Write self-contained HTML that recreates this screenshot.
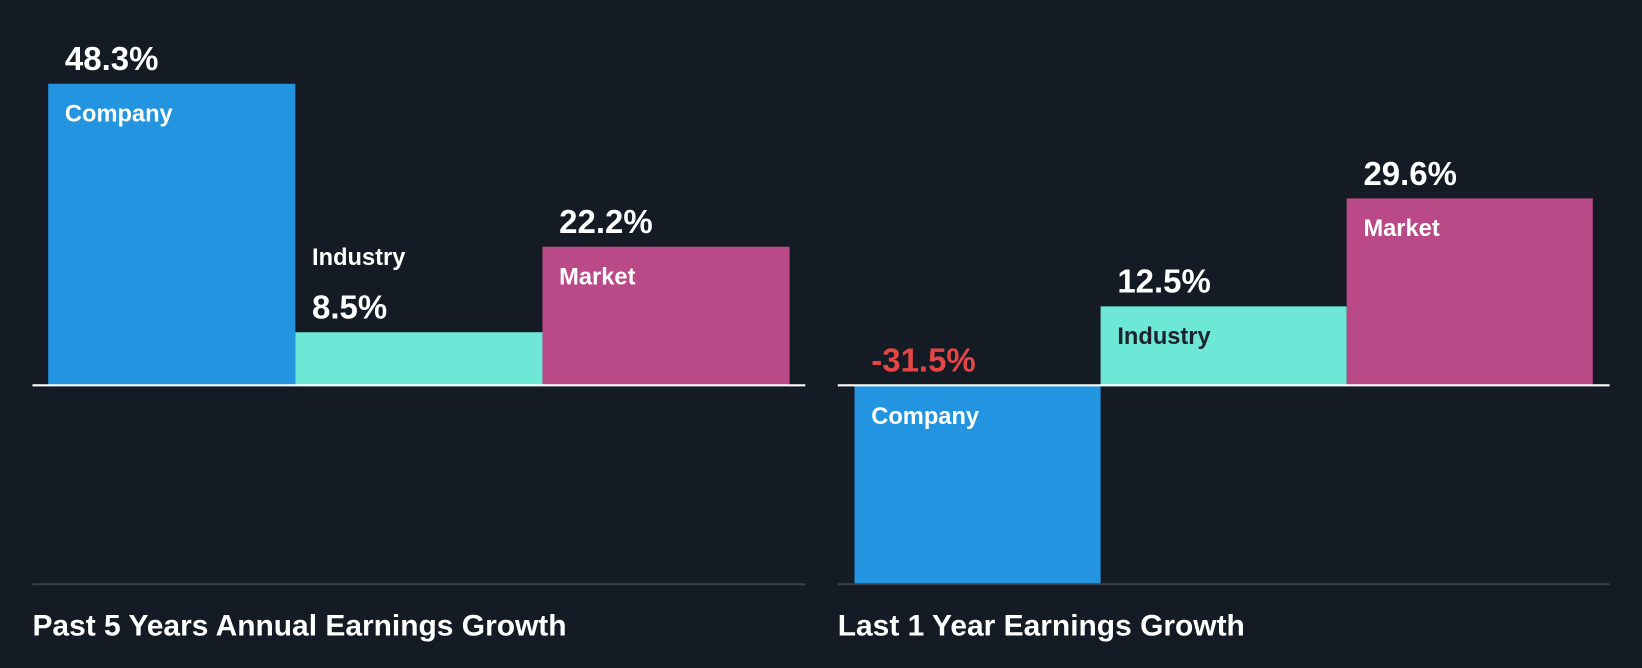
<!DOCTYPE html>
<html><head><meta charset="utf-8"><style>
html,body{margin:0;padding:0;background:#151b24;}
svg{display:block;font-family:"Liberation Sans",sans-serif;font-weight:bold;}
</style></head><body>
<svg id="chart" width="1642" height="668" viewBox="0 0 1568 638" preserveAspectRatio="none" xmlns="http://www.w3.org/2000/svg">
<rect width="1568" height="638" fill="#151b24"/>
</svg>
<script>
const categories = ["Company", "Industry", "Market"];
const past5Values = [48.3, 8.5, 22.2];
const last1Values = [-31.5, 12.5, 29.6];
const panelTitles = ["Past 5 Years Annual Earnings Growth", "Last 1 Year Earnings Growth"];

const svg = document.getElementById('chart');
const NS = 'http://www.w3.org/2000/svg';
const colors = ["#2394df", "#6ee8d6", "#ba4a87"];
const labelColors = ["#ffffff", "#1b222d", "#ffffff"];
function mk(tag, attrs, text){
  const e = document.createElementNS(NS, tag);
  for (const k in attrs) e.setAttribute(k, attrs[k]);
  if (text !== undefined) e.textContent = text;
  svg.appendChild(e);
  return e;
}
const baseY = 368, bottomY = 558;
const panels = [
  {values: past5Values, x0: 31, x1: 769, barX: 46, bw: 236, scale: 288/48.3, title: panelTitles[0], key: 'past-5-years'},
  {values: last1Values, x0: 800, x1: 1537, barX: 816, bw: 235, scale: 190/31.5, title: panelTitles[1], key: 'last-1-year'}
];
panels.forEach(p => {
  const y = v => baseY - v * p.scale;
  p.values.forEach((v, i) => {
    const x = p.barX + i * p.bw;
    const top = Math.min(y(v), baseY), h = Math.abs(y(v) - baseY);
    const r = mk('rect', {x: x, y: top, width: p.bw, height: h, fill: colors[i]});
    
    
    const valTxt = v.toFixed(1) + '%';
    let valY, catY, catFill;
    if (v < 0) {
      valY = baseY - 13; catY = baseY + 37; catFill = labelColors[i];
    } else if (h < 60) {
      valY = top - 13; catY = top - 64; catFill = '#ffffff';
    } else {
      valY = top - 13; catY = top + 36; catFill = labelColors[i];
    }
    const vt = mk('text', {x: x + 16, y: valY, 'font-size': 31.5, fill: v < 0 ? '#e64545' : '#ffffff'}, valTxt);
    
    
    const ct = mk('text', {x: x + 16, y: catY, 'font-size': 22.6, fill: catFill}, categories[i]);
    
    
  });
  const zl = mk('line', {x1: p.x0, x2: p.x1, y1: baseY, y2: baseY, stroke: '#ffffff', 'stroke-width': 2});
  
  
  const bl = mk('line', {x1: p.x0, x2: p.x1, y1: bottomY, y2: bottomY, stroke: '#3c414a', 'stroke-width': 2});
  
  
  const t = mk('text', {x: p.x0, y: 607, 'font-size': 28.6, fill: '#ffffff'}, p.title);
  
  
});
</script>
</body></html>
